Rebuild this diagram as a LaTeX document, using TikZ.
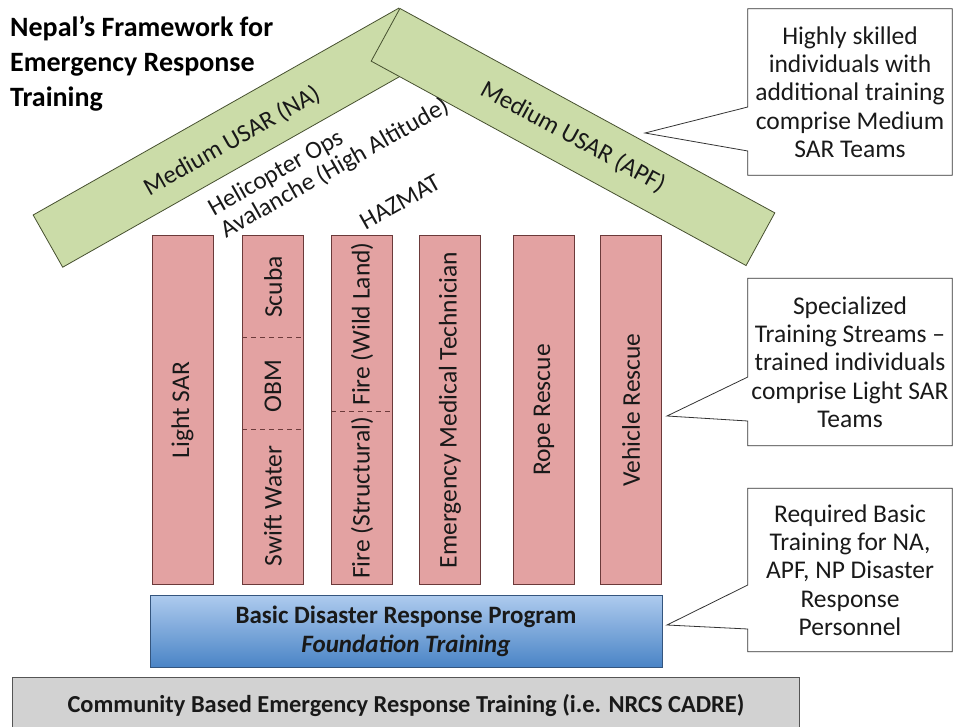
\documentclass[tikz,border=0pt]{standalone}
\usepackage{fontspec}
\setmainfont{Carlito}
\usetikzlibrary{calc}
\definecolor{roofgreen}{HTML}{CBDCA8}
\definecolor{roofline}{HTML}{46502F}
\definecolor{pillarpink}{HTML}{E3A2A2}
\definecolor{pillarline}{HTML}{6B3A3A}
\definecolor{basictop}{HTML}{AECBEE}
\definecolor{basicbottom}{HTML}{4A84C6}
\definecolor{basicline}{HTML}{34557E}
\definecolor{cbgray}{HTML}{D2D2D2}
\definecolor{cbline}{HTML}{555555}
\tikzset{
  txt/.style={font=\fontsize{25}{28}\selectfont,text=black!90},
  roof/.style={txt,draw=roofline,fill=roofgreen,line width=0.8pt,minimum height=60pt,inner sep=0pt},
  pillar/.style={txt,font=\fontsize{25.5}{28}\selectfont,draw=pillarline,fill=pillarpink,line width=0.8pt,minimum width=61pt,minimum height=349pt,inner sep=0pt},
  note/.style={txt,font=\fontsize{25.5}{28.3}\selectfont,align=center,minimum width=204pt,inner sep=0pt},
  pointer/.style={draw=black!80,line width=0.8pt}
}

\begin{document}
\begin{tikzpicture}[x=1pt,y=-1pt]
  \useasboundingbox (0,0) rectangle (957,727);
  \node[anchor=north west,align=left,inner sep=0pt,font=\bfseries\fontsize{28}{35}\selectfont] (title) at (10,16) {Nepal’s Framework for\\Emergency Response\\Training};

  \node[roof,minimum width=420pt,rotate=29.5] (R-1) at (230.7,137.7) {};
  \node[txt,rotate=29.5] (R-1-t) at (232,141) {Medium USAR (NA)};
  \node[roof,minimum width=427pt,rotate=-28.6] (R-2) at (573,137) {Medium USAR (APF)};

  \node[txt,rotate=29.5,align=left,font=\fontsize{25}{25}\selectfont] (heli) at (329,158) {Helicopter Ops\\Avalanche (High Altitude)};
  \node[txt,rotate=29.5] (hazmat) at (400,202) {HAZMAT};

  \node[pillar] (P-1) at (182.5,410) {\rotatebox{90}{Light SAR}};
  \node[pillar] (P-2) at (273,410) {};
  \node[pillar] (P-3) at (362,410) {};
  \node[pillar] (P-4) at (450,410) {\rotatebox{90}{Emergency Medical Technician}};
  \node[pillar] (P-5) at (544,410) {\rotatebox{90}{Rope Rescue}};
  \node[pillar] (P-6) at (631,410) {\rotatebox{90}{Vehicle Rescue}};

  \draw[pillarline,dash pattern=on 5pt off 4pt] ($(P-2.north west)+(0,102)$) -- ($(P-2.north east)+(0,102)$);
  \draw[pillarline,dash pattern=on 5pt off 4pt] ($(P-2.north west)+(0,194.5)$) -- ($(P-2.north east)+(0,194.5)$);
  \draw[pillarline,dash pattern=on 5pt off 4pt] ($(P-3.north west)+(0,176.5)$) -- ($(P-3.north east)+(0,176.5)$);
  \node[pillar,draw=none,fill=none,minimum width=0pt,minimum height=0pt] (S-1) at (273,287) {\rotatebox{90}{Scuba}};
  \node[pillar,draw=none,fill=none,minimum width=0pt,minimum height=0pt] (S-2) at (273,386) {\rotatebox{90}{OBM}};
  \node[pillar,draw=none,fill=none,minimum width=0pt,minimum height=0pt] (S-3) at (273,506) {\rotatebox{90}{Swift Water}};
  \node[pillar,draw=none,fill=none,minimum width=0pt,minimum height=0pt] (S-4) at (362,324) {\rotatebox{90}{Fire (Wild Land)}};
  \node[pillar,draw=none,fill=none,minimum width=0pt,minimum height=0pt] (S-5) at (362,498) {\rotatebox{90}{Fire (Structural)}};

  \node[txt,align=center,draw=basicline,line width=0.8pt,top color=basictop,bottom color=basicbottom,minimum width=512pt,minimum height=72pt,inner sep=0pt,font=\bfseries\fontsize{25}{29}\selectfont] (B) at (406,631) {Basic Disaster Response Program\\\textit{Foundation Training}};
  \node[txt,draw=cbline,line width=0.8pt,fill=cbgray,minimum width=787pt,minimum height=58pt,inner sep=0pt,font=\bfseries\fontsize{24.4}{28}\selectfont] (G) at (406,706) {Community Based Emergency Response Training (i.e. NRCS CADRE)};

  \node[note,minimum height=166pt] (C-1) at (850,92) {Highly skilled\\individuals with\\additional training\\comprise Medium\\SAR Teams};
  \node[note,minimum height=167pt] (C-2) at (850,362) {Specialized\\Training Streams –\\trained individuals\\comprise Light SAR\\Teams};
  \node[note,minimum height=163pt] (C-3) at (850,570) {Required Basic\\Training for NA,\\APF, NP Disaster\\Response\\Personnel};
  \coordinate (T-1) at (645,133);
  \coordinate (T-2) at (667,416);
  \coordinate (T-3) at (667,625);
  \foreach \c/\t in {C-1/T-1,C-2/T-2,C-3/T-3}
    \draw[pointer] ([yshift=-15pt]\c.west) -- (\c.north west) -- (\c.north east) -- (\c.south east) -- (\c.south west) -- ([yshift=-59pt]\c.west) -- (\t) -- cycle;
\end{tikzpicture}
\end{document}
